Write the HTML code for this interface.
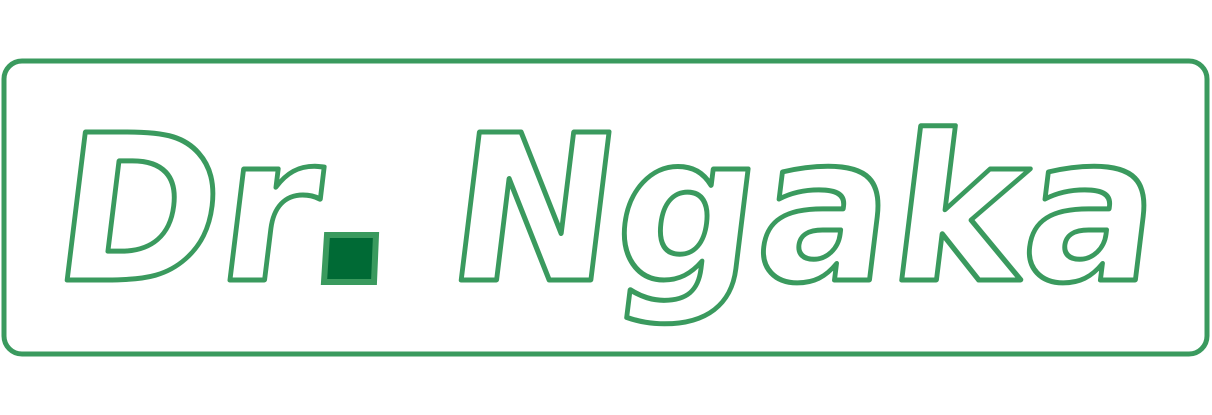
<!DOCTYPE html>
<html><head><meta charset="utf-8"><style>
html,body{margin:0;padding:0;background:#fff;}
svg{display:block;}
</style></head><body>
<svg width="1212" height="415" viewBox="0 0 1212 415">
<rect x="4" y="61" width="1203" height="293" rx="18" ry="18" fill="#fff" stroke="#3a9a5e" stroke-width="5"/>
<g transform="translate(0,280) skewX(-7) translate(0,-280)">
<text x="49" y="280" textLength="262" lengthAdjust="spacingAndGlyphs" font-family="DejaVu Sans" font-weight="bold" font-size="203" fill="#fff" stroke="#3a9a5e" stroke-width="5" stroke-linejoin="round">Dr</text>
<text x="443" y="280" textLength="708" lengthAdjust="spacingAndGlyphs" font-family="DejaVu Sans" font-weight="bold" font-size="203" fill="#fff" stroke="#3a9a5e" stroke-width="5" stroke-linejoin="round">Ngaka</text>
</g>
<polygon points="327,235 376,235 374,282 324,282" fill="#006a35" stroke="#3a9a5e" stroke-width="6"/>
</svg>
</body></html>
